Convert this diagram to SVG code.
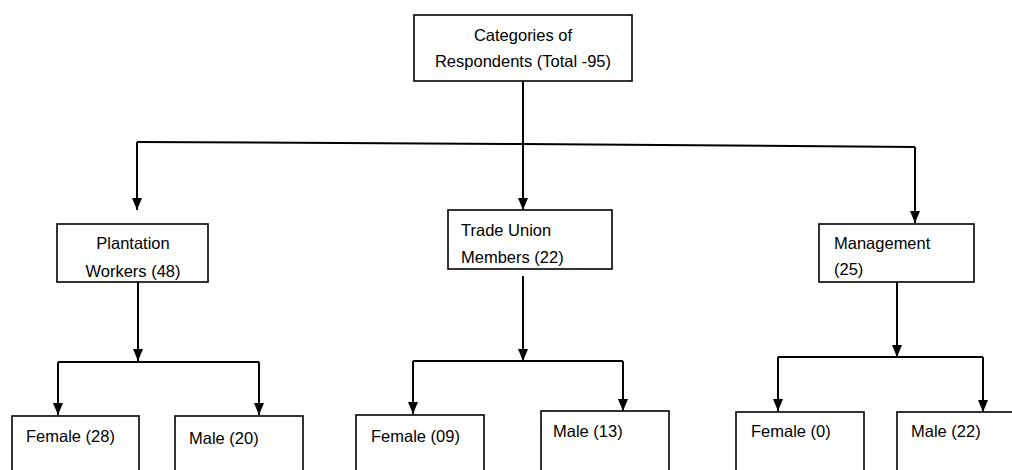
<svg xmlns="http://www.w3.org/2000/svg" width="1012" height="470" viewBox="0 0 1012 470">
<defs>
<marker id="ah" viewBox="0 0 12 10" refX="12" refY="5" markerWidth="12" markerHeight="10" markerUnits="userSpaceOnUse" orient="auto">
<path d="M0,0 L12,5 L0,10 Z" fill="#000"/>
</marker>
<style>
.box{fill:#fff;stroke:#000;stroke-width:1.6}
.t{font-family:"Liberation Sans",Arial,sans-serif;font-size:16.5px;fill:#000}
.c{text-anchor:middle}
.ln{fill:none;stroke:#000;stroke-width:2}
.arr{fill:none;stroke:#000;stroke-width:2;marker-end:url(#ah)}
</style>
</defs>
<rect width="1012" height="470" fill="#fff"/>
<g id="connectors">
<line class="arr" x1="523" y1="81" x2="523" y2="210"/>
<polyline class="ln" points="137,142 523,144 915,147"/>
<line class="arr" x1="137" y1="142" x2="137" y2="210"/>
<line class="arr" x1="915" y1="147" x2="915" y2="223"/>
<line class="arr" x1="138" y1="282" x2="138" y2="361"/>
<polyline class="ln" points="58,362 259,362"/>
<line class="arr" x1="58" y1="362" x2="58" y2="415"/>
<line class="arr" x1="259" y1="362" x2="259" y2="415"/>
<line class="arr" x1="523" y1="276" x2="523" y2="361"/>
<polyline class="ln" points="413,361 623,361"/>
<line class="arr" x1="413" y1="361" x2="413" y2="414"/>
<line class="arr" x1="623" y1="361" x2="623" y2="411"/>
<line class="arr" x1="897" y1="282" x2="897" y2="357"/>
<polyline class="ln" points="778,357 983,357"/>
<line class="arr" x1="778" y1="357" x2="778" y2="411"/>
<line class="arr" x1="983" y1="357" x2="983" y2="412"/>
</g>
<g id="root">
<rect class="box" x="414" y="15" width="218" height="66"/>
<text class="t c" x="523" y="41">Categories of</text>
<text class="t c" x="523" y="67">Respondents (Total -95)</text>
</g>
<g id="plantation">
<rect class="box" x="57" y="224" width="151" height="58"/>
<text class="t c" x="133" y="249">Plantation</text>
<text class="t c" x="133" y="277">Workers (48)</text>
</g>
<g id="tradeunion">
<rect class="box" x="448" y="210" width="164" height="59"/>
<text class="t" x="461" y="236">Trade Union</text>
<text class="t" x="461" y="263">Members (22)</text>
</g>
<g id="management">
<rect class="box" x="819" y="224" width="155" height="58"/>
<text class="t" x="834" y="249">Management</text>
<text class="t" x="834" y="275">(25)</text>
</g>
<g id="pw-female">
<rect class="box" x="12" y="416" width="127" height="60"/>
<text class="t" x="26" y="442">Female (28)</text>
</g>
<g id="pw-male">
<rect class="box" x="175" y="416" width="128" height="60"/>
<text class="t" x="189" y="444">Male (20)</text>
</g>
<g id="tu-female">
<rect class="box" x="356" y="415" width="128" height="61"/>
<text class="t" x="371" y="442">Female (09)</text>
</g>
<g id="tu-male">
<rect class="box" x="541" y="411" width="128" height="65"/>
<text class="t" x="553" y="437">Male (13)</text>
</g>
<g id="m-female">
<rect class="box" x="736" y="412" width="128" height="64"/>
<text class="t" x="751" y="437">Female (0)</text>
</g>
<g id="m-male">
<rect class="box" x="897" y="412" width="120" height="64"/>
<text class="t" x="911" y="437">Male (22)</text>
</g>
</svg>
